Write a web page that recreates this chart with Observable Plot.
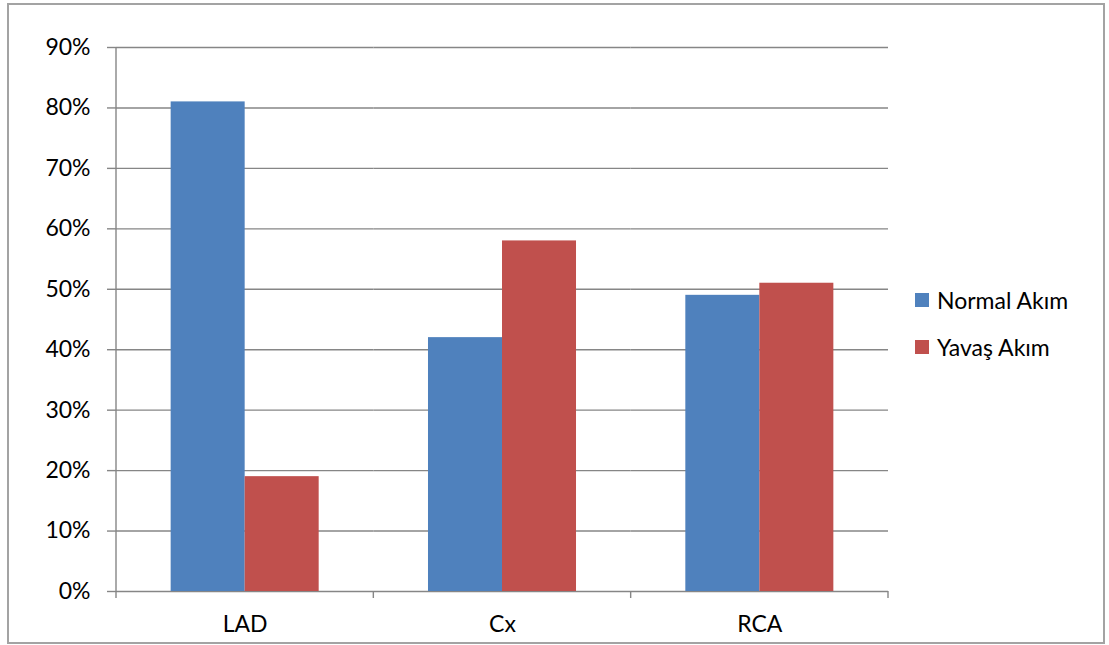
<!DOCTYPE html>
<html>
<head>
<meta charset="utf-8">
<script src="https://cdn.jsdelivr.net/npm/d3@7"></script>
<script src="https://cdn.jsdelivr.net/npm/@observablehq/plot@0.6"></script>
<style>
  html, body { margin: 0; padding: 0; background: #fff; }
  #wrap { position: relative; width: 1109px; height: 645px; font-family: Lato, "Open Sans", sans-serif; }
  #border { position: absolute; left: 7px; top: 3px; width: 1094px; height: 637px; border: 2px solid #a3a3a3; box-sizing: content-box; }
  #chart { position: absolute; left: 0; top: 0; }
  #legend { position: absolute; left: 915px; top: 285px; font-size: 23px; color: #000; }
  .item { display: flex; align-items: center; height: 30px; margin-bottom: 17px; }
  .sw { width: 14px; height: 14px; margin-right: 8px; }
</style>
</head>
<body>
<div id="wrap">
  <div id="border"></div>
  <div id="chart"></div>
  <div id="legend"></div>
</div>
<script>
const categories = ["LAD", "Cx", "RCA"];
const seriesNames = ["Normal Akım", "Yavaş Akım"];
const normalValues = [0.81, 0.42, 0.49];
const yavasValues = [0.19, 0.58, 0.51];
const yTicks = [0, 0.1, 0.2, 0.3, 0.4, 0.5, 0.6, 0.7, 0.8, 0.9];
const colors = ["#4F81BD", "#C0504D"];

const data = categories.flatMap((c, i) => [
  {category: c, series: seriesNames[0], value: normalValues[i]},
  {category: c, series: seriesNames[1], value: yavasValues[i]}
]);

const gray = "#868686";

const chart = Plot.plot({
  width: 1109,
  height: 645,
  marginLeft: 116,
  marginRight: 221,
  marginTop: 47,
  marginBottom: 54,
  style: {fontFamily: "Lato, 'Open Sans', sans-serif", fontSize: "23px", background: "transparent", color: "#000"},
  fx: {domain: categories, paddingInner: 0, paddingOuter: 0, round: false, label: null},
  x: {domain: seriesNames, paddingInner: 0, paddingOuter: 0.7385, round: false, axis: null},
  y: {domain: [0, 0.9], label: null},
  color: {domain: seriesNames, range: colors},
  marks: [
    Plot.gridY(yTicks, {stroke: gray, strokeOpacity: 1, strokeWidth: 1.4}),
    Plot.barY(data, {fx: "category", x: "series", y: "value", fill: "series"}),
    Plot.axisY(yTicks, {tickFormat: d => Math.round(d * 100) + "%", tickSize: 9, tickPadding: 17, stroke: gray, strokeWidth: 1.4, fill: "#000", label: null, fontSize: 23}),
    Plot.axisFx({anchor: "bottom", tickSize: 0, tickPadding: 24, label: null, fill: "#000", fontSize: 23})
  ]
});

// Axis line and category boundary ticks, positioned through the chart's own scales
const fx = chart.scale("fx");
const y = chart.scale("y");
const svg = d3.select(chart);
const y0 = y.apply(0), yTop = y.apply(0.9);
const bounds = categories.map(c => fx.apply(c));
bounds.push(fx.apply(categories[categories.length - 1]) + fx.bandwidth);
svg.append("line")
  .attr("x1", bounds[0]).attr("x2", bounds[0])
  .attr("y1", yTop).attr("y2", y0)
  .attr("stroke", gray).attr("stroke-width", 1.4);
bounds.forEach(b => {
  svg.append("line")
    .attr("x1", b).attr("x2", b)
    .attr("y1", y0).attr("y2", y0 + 7)
    .attr("stroke", gray).attr("stroke-width", 1.4);
});

document.getElementById("chart").appendChild(chart);

const legend = d3.select("#legend");
seriesNames.forEach((s, i) => {
  const item = legend.append("div").attr("class", "item");
  item.append("div").attr("class", "sw").style("background", colors[i]);
  item.append("span").text(s);
});
</script>
</body>
</html>
